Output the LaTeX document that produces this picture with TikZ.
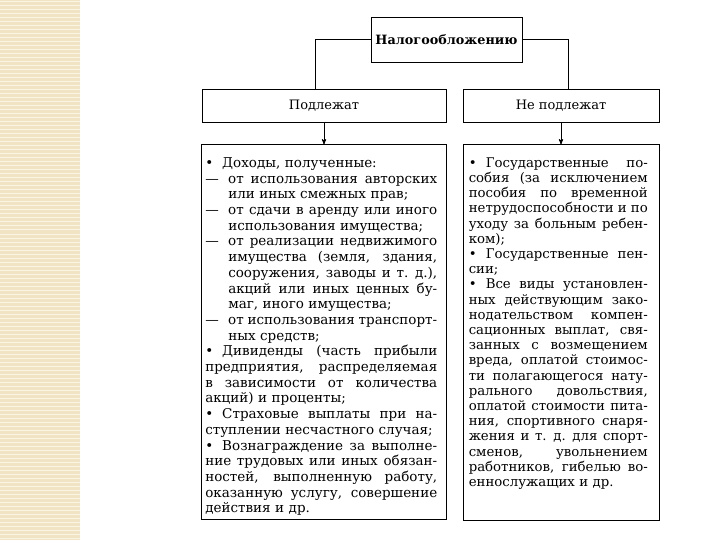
\documentclass[tikz,border=0pt]{standalone}
\usepackage{fontspec}
\setmainfont{DejaVu Serif}
\usepackage{tikz}
\usetikzlibrary{arrows}
\usetikzlibrary{positioning}
\definecolor{stripe}{RGB}{240,228,196}
\definecolor{stripelight}{RGB}{250,244,226}
\newlength{\dashw}
\setlength{\dashw}{23pt}
\newlength{\bulw}
\setlength{\bulw}{17pt}
\newlength{\colw}
\newcommand{\jfy}[2]{\makebox[#1][s]{\spaceskip=.33em plus 1fil minus .12em\relax#2}}
\newcommand{\jl}[1]{\jfy{\colw}{#1}}
\newcommand{\bj}[1]{\makebox[\bulw][l]{•}\jfy{\dimexpr\colw-\bulw\relax}{#1}}
\newcommand{\bp}[1]{\makebox[\bulw][l]{•}#1}
\newcommand{\dl}[1]{\makebox[\dashw][l]{---}\jfy{\dimexpr\colw-\dashw\relax}{#1}}
\newcommand{\il}[1]{\hspace*{\dashw}\jfy{\dimexpr\colw-\dashw\relax}{#1}}
\newcommand{\ie}[1]{\hspace*{\dashw}#1}

\begin{document}
\begin{tikzpicture}[x=1pt,y=-1pt,>=stealth',
		box/.style={rectangle,draw=black,line width=0.9pt,inner sep=0pt},
		list/.style={inner sep=0pt,anchor=north west,font=\fontsize{13.5}{15.7}\selectfont}]
		\useasboundingbox (0,0) rectangle (720,540);
		\fill[white] (0,0) rectangle (720,540);
		\fill[stripe] (0,0) rectangle (80,540);
		\foreach \y in {2,6,...,538}
			\draw[stripelight,line width=1pt] (0,\y) -- (80,\y);
		
		\node[box,minimum width=151pt,minimum height=45pt,font=\fontsize{12.8}{15}\bfseries\selectfont] (tax) at (446.5,39.5) {Налогообложению};
		\node[box,minimum width=244pt,minimum height=33pt,font=\fontsize{13}{15}\selectfont] (yes) at (324,105.5) {Подлежат};
		\node[box,minimum width=196pt,minimum height=33pt,font=\fontsize{13}{15}\selectfont] (no) at (561,105.5) {Не подлежат};
		\node[box,minimum width=245pt,minimum height=375pt] (yeslist) [below=22pt of yes] {};
		\node[box,minimum width=196pt,minimum height=376pt] (nolist) [below=22pt of no] {};
		
		\node[list,text width=232pt] (yestext) at ([xshift=4pt,yshift=-13pt]yeslist.north west) {%
			\setlength{\colw}{232pt}%
			\bp{Доходы, полученные:}\\
			\dl{от использования авторских}\\
			\ie{или иных смежных прав;}\\
			\dl{от сдачи в аренду или иного}\\
			\ie{использования имущества;}\\
			\dl{от реализации недвижимого}\\
			\il{имущества (земля, здания,}\\
			\il{сооружения, заводы и т. д.),}\\
			\il{акций или иных ценных бу-}\\
			\ie{маг, иного имущества;}\\
			\dl{от использования транспорт-}\\
			\ie{ных средств;}\\
			\bj{Дивиденды (часть прибыли}\\
			\jl{предприятия, распределяемая}\\
			\jl{в зависимости от количества}\\
			акций) и проценты;\\
			\bj{Страховые выплаты при на-}\\
			ступлении несчастного случая;\\
			\bj{Вознаграждение за выполне-}\\
			\jl{ние трудовых или иных обязан-}\\
			\jl{ностей, выполненную работу,}\\
			\jl{оказанную услугу, совершение}\\
			действия и др.};
		
		\node[list,text width=179pt,font=\fontsize{13.3}{15.2}\selectfont] (notext) at ([xshift=6pt,yshift=-13pt]nolist.north west) {%
			\setlength{\colw}{179pt}%
			\bj{Государственные по-}\\
			\jl{собия (за исключением}\\
			\jl{пособия по временной}\\
			\jl{нетрудоспособности и по}\\
			\jl{уходу за больным ребен-}\\
			ком);\\
			\bj{Государственные пен-}\\
			сии;\\
			\bj{Все виды установлен-}\\
			\jl{ных действующим зако-}\\
			\jl{нодательством компен-}\\
			\jl{сационных выплат, свя-}\\
			\jl{занных с возмещением}\\
			\jl{вреда, оплатой стоимос-}\\
			\jl{ти полагающегося нату-}\\
			\jl{рального довольствия,}\\
			\jl{оплатой стоимости пита-}\\
			\jl{ния, спортивного снаря-}\\
			\jl{жения и т. д. для спорт-}\\
			\jl{сменов, увольнением}\\
			\jl{работников, гибелью во-}\\
			еннослужащих и др.};
		
		\draw[line width=0.9pt] (tax.west) -| ([xshift=-9pt]yes.north);
		\draw[line width=0.9pt] (tax.east) -| ([xshift=7pt]no.north);
		\path[->,line width=0.9pt]
		(yes) edge (yeslist)
		(no) edge (nolist);
		\end{tikzpicture}
\end{document}
